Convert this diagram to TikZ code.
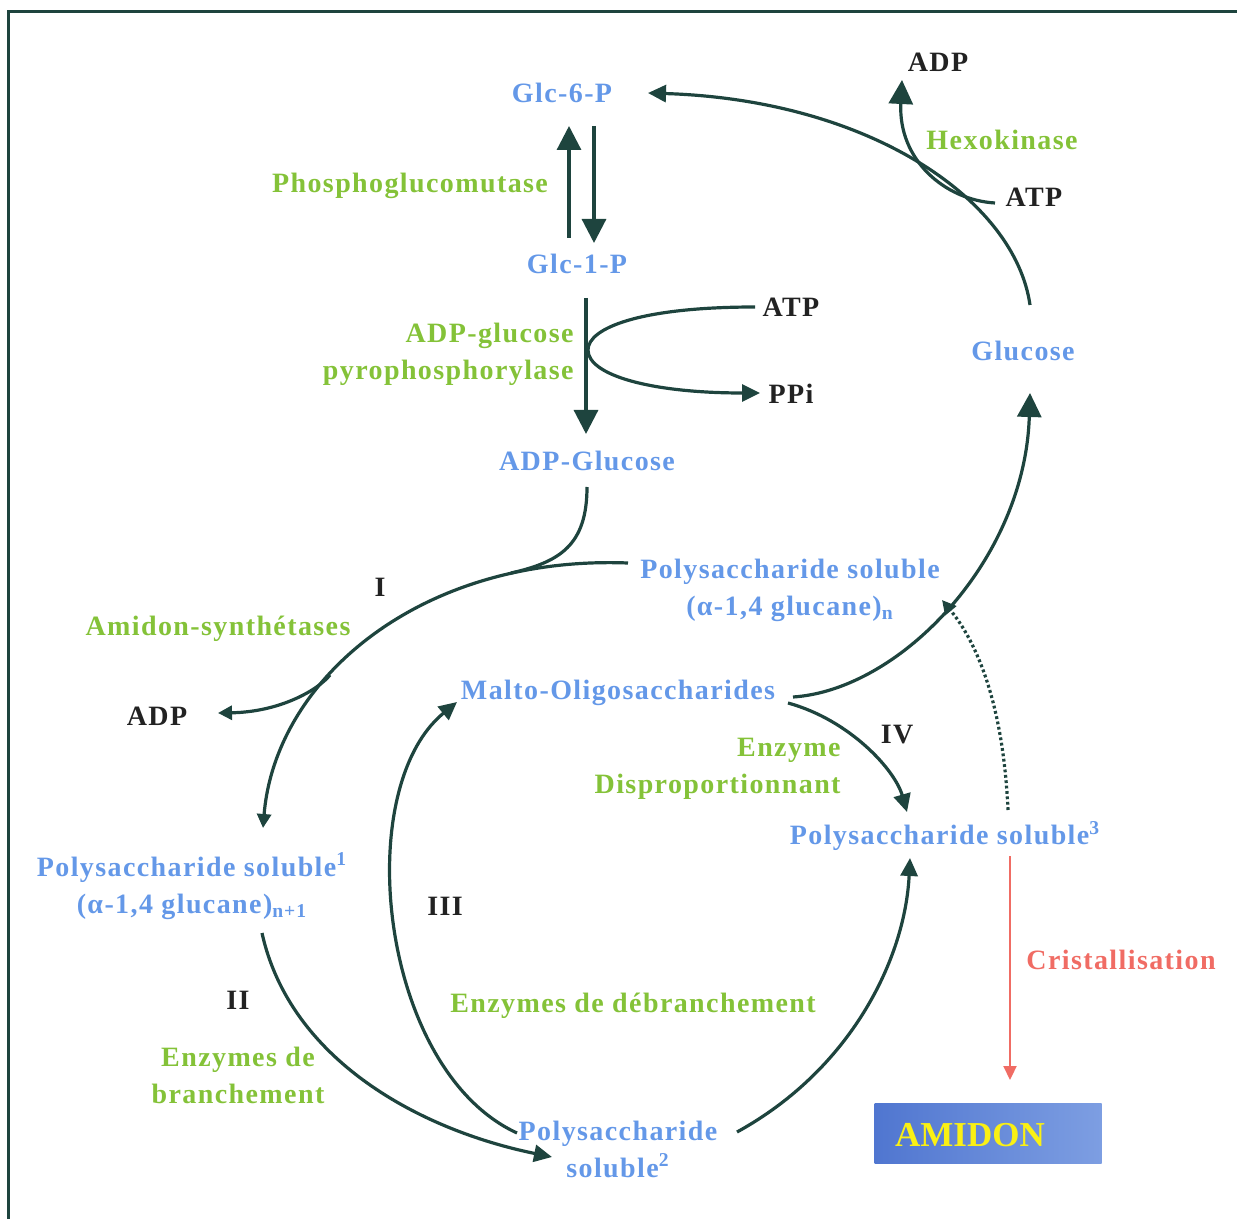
\documentclass[tikz,border=0pt]{standalone}
\usepackage{fontspec}
\setmainfont{Liberation Serif}[LetterSpace=5]
\newfontfamily\amidonfont{Liberation Serif}
\usetikzlibrary{arrows.meta}
\definecolor{cblue}{RGB}{100,152,232}
\definecolor{cgreen}{RGB}{132,194,56}
\definecolor{cline}{RGB}{30,68,62}
\definecolor{cred}{RGB}{240,108,100}
\definecolor{cdark}{RGB}{34,34,34}
\definecolor{boxL}{RGB}{80,118,208}
\definecolor{boxR}{RGB}{125,158,226}
\definecolor{amidonyellow}{RGB}{250,240,20}
\begin{document}
\begin{tikzpicture}[x=0.5pt,y=-0.5pt,
  lbl/.style={font=\fontsize{14}{18.5}\selectfont\bfseries, inner sep=0pt, align=center},
  met/.style={lbl, text=cblue},
  enz/.style={lbl, text=cgreen},
  cof/.style={lbl, text=cdark},
  conn/.style={draw=cline, line width=1.6pt},
  tipB/.style={-{Triangle[width=12pt,length=12pt]}},
  tipM/.style={-{Triangle[width=8.5pt,length=9pt]}},
  tipS/.style={-{Triangle[width=7pt,length=7pt]}}
]
\useasboundingbox (0,0) rectangle (1237,1219);
% frame
\draw[cline, line width=1.5pt] (8,1219) -- (8,12) -- (1237,12);

% nodes
\node[met] (g6p) at (562,93) {Glc-6-P};
\node[cof] (adp1) at (938,62) {ADP};
\node[enz] (hexo) at (1002,140) {Hexokinase};
\node[cof] (atp1) at (1034,197) {ATP};
\node[enz] (pgm) at (410,186) {Phosphoglucomutase};
\node[met] (g1p) at (577,264) {Glc-1-P};
\node[cof] (atp2) at (791,307) {ATP};
\node[enz, align=right, anchor=east] (agpp) at (574,354) {ADP-glucose\\pyrophosphorylase};
\node[cof] (ppi) at (791,394) {PPi};
\node[met] (glc) at (1023,351) {Glucose};
\node[met] (adpg) at (587,461) {ADP-Glucose};
\node[met] (psn) at (790,590) {Polysaccharide soluble\\(α-1,4 glucane)\textsubscript{n}};
\node[cof] (r1) at (380,587) {I};
\node[enz] (ams) at (218,629) {Amidon-synthétases};
\node[cof] (adp2) at (157,716) {ADP};
\node[met] (malto) at (618,693) {Malto-Oligosaccharides};
\node[cof] (r4) at (897,735) {IV};
\node[enz, align=right, anchor=east] (edp) at (841,769) {Enzyme\\Disproportionnant};
\node[met] (ps3) at (945,836) {Polysaccharide soluble\textsuperscript{3}};
\node[met] (ps1) at (192,886) {Polysaccharide soluble\textsuperscript{1}\\(α-1,4 glucane)\textsubscript{n+1}};
\node[cof] (r3) at (445,906) {III};
\node[cof] (r2) at (238,1000) {II};
\node[enz] (edb) at (633,1006) {Enzymes de débranchement};
\node[lbl, text=cred] (crist) at (1121,960) {Cristallisation};
\node[enz] (eb) at (238,1075) {Enzymes de\\branchement};
\node[met] (ps2) at (618,1149) {Polysaccharide\\soluble\textsuperscript{2}};
\node[left color=boxL, right color=boxR, minimum width=113.5pt, minimum height=30pt, inner sep=0pt] (amidonbox) at (988,1133) {};
\node[inner sep=0pt, text=amidonyellow, font=\amidonfont\fontsize{17.5}{20}\selectfont\bfseries] (amidon) at (970,1135) {AMIDON};

% coordinates
\coordinate (g1pUp) at (569,238);
\coordinate (g6pUp) at (569,126);
\coordinate (g6pDn) at (594,126);
\coordinate (g1pDn) at (594,243);
\coordinate (glcTop) at (1030,305);
\coordinate (g6pR) at (648,93);
\coordinate (atp1L) at (995,203);
\coordinate (adp1B) at (902,80);
\coordinate (g1pB) at (586,298);
\coordinate (adpgT) at (586,434);
\coordinate (atp2L) at (755,307);
\coordinate (vtx) at (588,350);
\coordinate (ppiL) at (760,393);
\coordinate (adpgB) at (587,487);
\coordinate (psnL) at (628,563);
\coordinate (merge1) at (511,573);
\coordinate (ps1T) at (263,828);
\coordinate (adpBr) at (330,675);
\coordinate (adp2R) at (218,713);
\coordinate (ps1B) at (262,933);
\coordinate (ps2L) at (552,1157);
\coordinate (ps2Lb) at (517,1133);
\coordinate (maltoL) at (457,702);
\coordinate (ps2R) at (737,1132);
\coordinate (ps3B) at (910,858);
\coordinate (maltoR) at (793,697);
\coordinate (glcB) at (1030,393);
\coordinate (maltoR2) at (788,703);
\coordinate (ps3T) at (907,812);
\coordinate (ps3Td) at (1008,810);
\coordinate (psnR) at (942,600);
\coordinate (crT) at (1010,856);
\coordinate (crB) at (1010,1080);

% connectors
\draw[conn, tipB] (g1pUp) -- (g6pUp);
\draw[conn, tipB] (g6pDn) -- (g1pDn);
\draw[conn, tipM] (glcTop) .. controls (1015,200) and (870,100) .. (g6pR);
\draw[conn, tipB] (atp1L) .. controls (945,200) and (898,160) .. (adp1B);
\draw[conn, tipB] (g1pB) -- (adpgT);
\draw[conn] (atp2L) .. controls (640,307) and (588,328) .. (vtx);
\draw[conn, tipM] (vtx) .. controls (588,375) and (650,393) .. (ppiL);
\draw[conn] (adpgB) .. controls (587,545) and (560,562) .. (merge1);
\draw[conn, tipS] (psnL) .. controls (420,555) and (275,680) .. (ps1T);
\draw[conn, tipS] (adpBr) .. controls (318,690) and (280,712) .. (adp2R);
\draw[conn, tipM] (ps1B) .. controls (290,1060) and (420,1130) .. (ps2L);
\draw[conn, tipM] (ps2Lb) .. controls (380,1070) and (350,790) .. (maltoL);
\draw[conn, tipM] (ps2R) .. controls (850,1070) and (905,960) .. (ps3B);
\draw[conn, tipB] (maltoR) .. controls (900,690) and (1025,560) .. (glcB);
\draw[conn, tipM] (maltoR2) .. controls (850,720) and (895,770) .. (ps3T);
\draw[conn, line width=1.6pt, dash pattern=on 1.4pt off 1.3pt, tipS] (ps3Td) .. controls (1003,700) and (975,640) .. (psnR);
\draw[draw=cred, line width=1.1pt, -{Triangle[width=6.5pt,length=7pt]}] (crT) -- (crB);
\end{tikzpicture}
\end{document}
